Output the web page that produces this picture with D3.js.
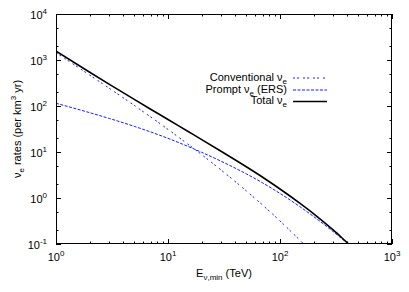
<!DOCTYPE html>
<html>
<head>
<meta charset="utf-8">
<script src="https://cdn.jsdelivr.net/npm/d3@7/dist/d3.min.js"></script>
<style>
  html, body { margin: 0; padding: 0; background: #fff; }
  svg { display: block; font-family: "Liberation Sans", Arial, Helvetica, sans-serif; }
</style>
</head>
<body>
<svg id="chart" width="409" height="292"></svg>
<script>
// Data
const energies     = [1, 2, 3, 5, 7, 10, 15, 20, 30, 50, 70, 100, 150, 200, 300, 400, 450];
const conventional = [1445, 470, 241.5, 102.8, 57.8, 31.0, 14.9, 8.75, 4.0, 1.43, 0.70, 0.317, 0.122, 0.060, null, null, null];
const prompt       = [114.8, 71.6, 53.5, 36.1, 27.3, 19.8, 13.3, 9.84, 6.25, 3.35, 2.13, 1.256, 0.652, 0.394, 0.184, 0.103, 0.081];
const total        = [1560, 541.6, 295, 138.9, 85.1, 50.8, 28.2, 18.6, 10.25, 4.78, 2.83, 1.57, 0.774, 0.454, 0.20, 0.106, 0.082];
const xTickValues  = [1, 10, 100, 1000];
const yTickValues  = [0.1, 1, 10, 100, 1000, 10000];
const legendLabels = [["Conventional ν", "e", ""], ["Prompt ν", "e", " (ERS)"], ["Total ν", "e", ""]];

(function () {
const svg = d3.select("#chart");
const mL = 56, mR = 392, mT = 14, mB = 244;

const x = d3.scaleLog().domain([1, 1000]).range([mL, mR]);
const y = d3.scaleLog().domain([0.1, 10000]).range([mB, mT]);

svg.append("defs").append("clipPath").attr("id", "clip")
  .append("rect").attr("x", mL).attr("y", mT).attr("width", mR - mL).attr("height", mB - mT);

const xMinor = [];
for (let d = 1; d < 1000; d *= 10) for (let k = 2; k <= 9; k++) xMinor.push(d * k);
const yMinor = [];
for (let d = 0.1; d < 10000; d *= 10) for (const k of [2, 5]) yMinor.push(d * k);

const tickG = svg.append("g").attr("stroke", "#000").attr("stroke-width", 1);
const MJ = 5, MN = 2.5;
xTickValues.forEach(v => {
  const px = Math.round(x(v)) + 0.5;
  tickG.append("line").attr("x1", px).attr("x2", px).attr("y1", mB).attr("y2", mB - MJ);
  tickG.append("line").attr("x1", px).attr("x2", px).attr("y1", mT).attr("y2", mT + MJ);
});
xMinor.forEach(v => {
  const px = Math.round(x(v)) + 0.5;
  tickG.append("line").attr("x1", px).attr("x2", px).attr("y1", mB).attr("y2", mB - MN);
  tickG.append("line").attr("x1", px).attr("x2", px).attr("y1", mT).attr("y2", mT + MN);
});
yTickValues.forEach(v => {
  const py = Math.round(y(v)) + 0.5;
  tickG.append("line").attr("x1", mL).attr("x2", mL + MJ).attr("y1", py).attr("y2", py);
  tickG.append("line").attr("x1", mR).attr("x2", mR - MJ).attr("y1", py).attr("y2", py);
});
yMinor.forEach(v => {
  const py = Math.round(y(v)) + 0.5;
  tickG.append("line").attr("x1", mL).attr("x2", mL + MN).attr("y1", py).attr("y2", py);
  tickG.append("line").attr("x1", mR).attr("x2", mR - MN).attr("y1", py).attr("y2", py);
});

function powLabel(g, v) {
  const e = Math.round(Math.log10(v));
  g.append("tspan").text("10");
  g.append("tspan").attr("dy", -5).attr("font-size", 8).text(e);
}
xTickValues.forEach(v => {
  const t = svg.append("text").attr("x", x(v)).attr("y", 261)
    .attr("text-anchor", "middle").attr("font-size", 11).attr("fill", "#000");
  powLabel(t, v);
});
yTickValues.forEach(v => {
  const t = svg.append("text").attr("x", 47).attr("y", y(v) + 4.5)
    .attr("text-anchor", "end").attr("font-size", 11).attr("fill", "#000");
  powLabel(t, v);
});

const plot = svg.append("g").attr("clip-path", "url(#clip)");
function series(vals) {
  return energies.map((e, i) => ({ e, v: vals[i] }));
}
const line = d3.line().defined(d => d.v != null).x(d => x(d.e)).y(d => y(d.v)).curve(d3.curveMonotoneX);
const styles = [
  { data: conventional, color: "#1a1aff", width: 1, dash: "2,2,2,4" },
  { data: prompt, color: "#1a1aff", width: 1, dash: "3,1.5" },
  { data: total, color: "#000", width: 1.6, dash: null }
];
styles.forEach(s => {
  plot.append("path").datum(series(s.data)).attr("d", line)
    .attr("fill", "none").attr("stroke", s.color).attr("stroke-width", s.width)
    .attr("stroke-dasharray", s.dash);
});

svg.append("rect").attr("x", mL + 0.5).attr("y", mT + 0.5)
  .attr("width", mR - mL - 1).attr("height", mB - mT - 1)
  .attr("fill", "none").attr("stroke", "#000").attr("stroke-width", 1);

const legBase = [80.5, 92.5, 104];
legendLabels.forEach((lab, i) => {
  const t = svg.append("text").attr("x", 287).attr("y", legBase[i])
    .attr("text-anchor", "end").attr("font-size", 11).attr("fill", "#000");
  t.append("tspan").text(lab[0]);
  t.append("tspan").attr("dy", 3).attr("font-size", 8).text(lab[1]);
  if (lab[2]) t.append("tspan").attr("dy", -3).text(lab[2]);
  const s = styles[i];
  svg.append("line").attr("x1", 293).attr("x2", 327)
    .attr("y1", legBase[i] - 2.5).attr("y2", legBase[i] - 2.5)
    .attr("stroke", s.color).attr("stroke-width", s.width).attr("stroke-dasharray", s.dash);
});

const xt = svg.append("text").attr("x", 224).attr("y", 277)
  .attr("text-anchor", "middle").attr("font-size", 11).attr("fill", "#000");
xt.append("tspan").text("E");
xt.append("tspan").attr("dy", 3).attr("font-size", 8).text("ν,min");
xt.append("tspan").attr("dy", -3).text(" (TeV)");

const yt = svg.append("text").attr("transform", "translate(21,129) rotate(-90)")
  .attr("text-anchor", "middle").attr("font-size", 11).attr("fill", "#000");
yt.append("tspan").text("ν");
yt.append("tspan").attr("dy", 3).attr("font-size", 8).text("e");
yt.append("tspan").attr("dy", -3).text(" rates (per km");
yt.append("tspan").attr("dy", -5).attr("font-size", 8).text("3");
yt.append("tspan").attr("dy", 5).text(" yr)");
})();
</script>
</body>
</html>
